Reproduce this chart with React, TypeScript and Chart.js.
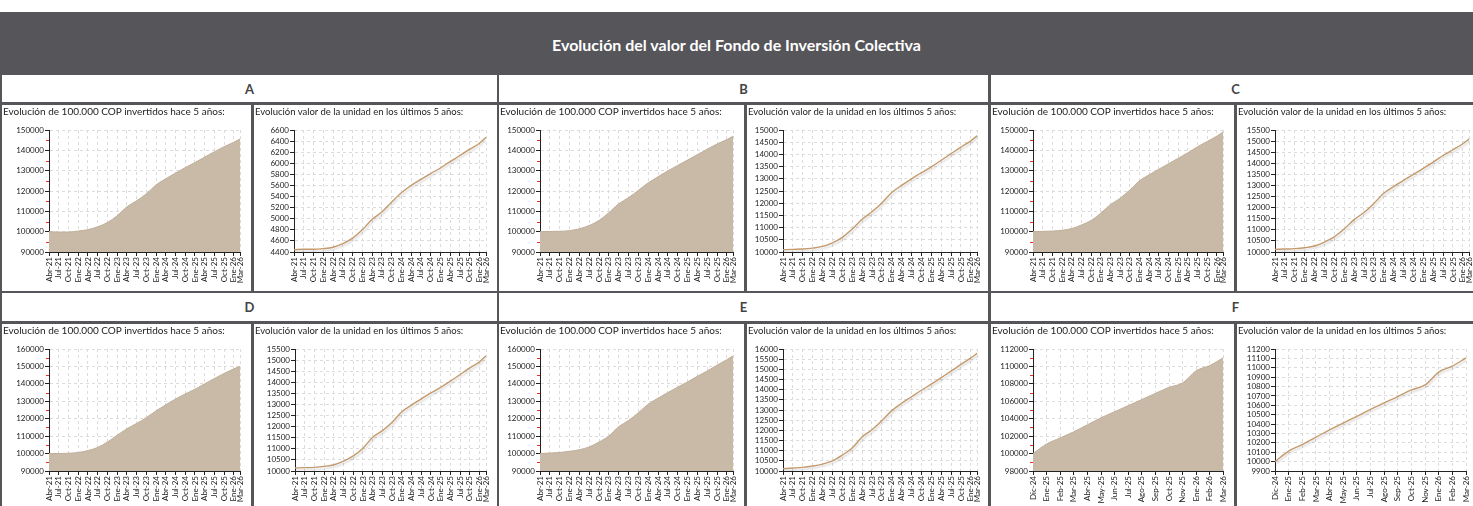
import React, { useEffect, useRef } from 'react';
import { Chart, registerables } from 'chart.js';

Chart.register(...registerables);

// ---------- DATA ----------
const quarterLabels = ['Abr-21', 'Jul-21', 'Oct-21', 'Ene-22', 'Abr-22', 'Jul-22', 'Oct-22', 'Ene-23', 'Abr-23', 'Jul-23', 'Oct-23', 'Ene-24', 'Abr-24', 'Jul-24', 'Oct-24', 'Ene-25', 'Abr-25', 'Jul-25', 'Oct-25', 'Ene-26', 'Mar-26'];
const quarterMonth = [0, 3, 6, 9, 12, 15, 18, 21, 24, 27, 30, 33, 36, 39, 42, 45, 48, 51, 54, 57, 59];
const fLabels = ['Dic-24', 'Ene-25', 'Feb-25', 'Mar-25', 'Abr-25', 'May-25', 'Jun-25', 'Jul-25', 'Ago-25', 'Sep-25', 'Oct-25', 'Nov-25', 'Ene-26', 'Feb-26', 'Mar-26'];

const aInvest = [100000, 99800, 99800, 100300, 101000, 102400, 104500, 107800, 112200, 115200, 118600, 123000, 126000, 128800, 131500, 134000, 136700, 139300, 141800, 144000, 145700];
const aUnit = [4440, 4450, 4450, 4460, 4485, 4550, 4650, 4800, 4990, 5120, 5300, 5470, 5600, 5710, 5815, 5915, 6030, 6140, 6255, 6360, 6470];

const bInvest = [100000, 100100, 100200, 100500, 101400, 103000, 105500, 109300, 113700, 116700, 120300, 124000, 127000, 129900, 132600, 135200, 137900, 140500, 143100, 145300, 147000];
const bUnit = [10094, 10108, 10120, 10160, 10230, 10375, 10600, 10940, 11340, 11650, 12010, 12440, 12730, 13000, 13250, 13490, 13760, 14030, 14300, 14555, 14770];

const cInvest = [100000, 100150, 100300, 100700, 101500, 103300, 105500, 109100, 113300, 116400, 120500, 125000, 128000, 130700, 133400, 136100, 138800, 141800, 144400, 147000, 149200];
const cUnit = [10119, 10134, 10150, 10190, 10270, 10450, 10680, 11040, 11460, 11780, 12190, 12650, 12950, 13230, 13500, 13770, 14050, 14350, 14610, 14880, 15100];

const dInvest = [100000, 100000, 100200, 100600, 101700, 103500, 106600, 110500, 114200, 117300, 120600, 124500, 128000, 131300, 134200, 136900, 140000, 143100, 146000, 148600, 150100];
const dUnit = [10134, 10150, 10164, 10210, 10283, 10450, 10685, 11030, 11520, 11820, 12200, 12670, 12970, 13250, 13520, 13770, 14050, 14350, 14650, 14920, 15200];

const eInvest = [100000, 100300, 100600, 101300, 102200, 103800, 106600, 110100, 115400, 119000, 123400, 128300, 131800, 135000, 138100, 141100, 144300, 147400, 150700, 153900, 156200];
const eUnit = [10113, 10146, 10178, 10243, 10340, 10500, 10780, 11130, 11670, 12030, 12480, 12970, 13330, 13650, 13970, 14270, 14590, 14910, 15240, 15560, 15800];

const fInvest = [100000, 101100, 101800, 102500, 103300, 104100, 104800, 105500, 106200, 106900, 107600, 108100, 109500, 110100, 111000];
const fUnit = [10000, 10112, 10182, 10260, 10337, 10411, 10482, 10556, 10626, 10693, 10764, 10817, 10954, 11017, 11105];

const HEADER_TITLE = 'Evolución del valor del Fondo de Inversión Colectiva';
const LEFT_TITLE = 'Evolución de 100.000 COP invertidos hace 5 años:';
const RIGHT_TITLE = 'Evolución valor de la unidad en los últimos 5 años:';

// ---------- STYLE ----------
const FONT = "Lato, 'Noto Sans', sans-serif";
const DARK = '#55555a';
const AREA_FILL = '#c9baa8';
const AREA_EDGE = '#bfae99';
const LINE_COLOR = '#c49a6c';

const minorTicks = {
  id: 'minorTicks',
  afterDraw(chart: any) {
    const y = chart.scales.y;
    const ctx = chart.ctx;
    const ticks = y.ticks;
    ctx.save();
    ctx.strokeStyle = '#ee2a22';
    ctx.lineWidth = 1;
    for (let i = 0; i < ticks.length - 1; i++) {
      const mid = (ticks[i].value + ticks[i + 1].value) / 2;
      const py = Math.round(y.getPixelForValue(mid)) + 0.5;
      ctx.beginPath();
      ctx.moveTo(y.right - 3, py);
      ctx.lineTo(y.right, py);
      ctx.stroke();
    }
    ctx.restore();
  },
};

const lineShadow = {
  id: 'lineShadow',
  beforeDatasetDraw(chart: any) {
    const c = chart.ctx;
    c.save();
    c.shadowColor = 'rgba(0,0,0,0.16)';
    c.shadowBlur = 2;
    c.shadowOffsetX = 1;
    c.shadowOffsetY = 2;
  },
  afterDatasetDraw(chart: any) {
    chart.ctx.restore();
  },
};

type Spec = {
  kind: 'area' | 'line';
  labels: string[];
  xIndex?: number[];
  values: number[];
  yMin: number;
  yMax: number;
  yStep: number;
  axisW: number;
  padR: number;
  width: number;
  height: number;
};

function MiniChart(props: Spec) {
  const ref = useRef<HTMLCanvasElement>(null);
  useEffect(() => {
    const { kind, labels, xIndex, values, yMin, yMax, yStep, axisW, padR } = props;
    const linearX = !!xIndex;
    const data = linearX ? values.map((v, i) => ({ x: xIndex![i], y: v })) : values;
    const tickFont = { family: FONT, size: 8 };
    const gridCommon = { color: '#dcdcdc', tickColor: '#222', tickLength: 4, lineWidth: 1 };
    const borderCommon = { color: '#222', dash: [3, 3], width: 1 };
    const xScale: any = linearX
      ? {
          type: 'linear',
          min: 0,
          max: xIndex![xIndex!.length - 1],
          afterBuildTicks: (s: any) => {
            s.ticks = xIndex!.map((v) => ({ value: v }));
          },
          ticks: {
            autoSkip: false,
            maxRotation: 90,
            minRotation: 90,
            padding: 1,
            font: tickFont,
            color: '#222',
            callback: (v: number) => labels[xIndex!.indexOf(v)],
          },
        }
      : {
          type: 'category',
          labels,
          offset: false,
          ticks: { autoSkip: false, maxRotation: 90, minRotation: 90, padding: 1, font: tickFont, color: '#222' },
        };
    xScale.grid = { ...gridCommon, offset: false };
    xScale.border = borderCommon;
    xScale.afterFit = (s: any) => {
      s.height = 39;
    };

    const dataset: any =
      kind === 'area'
        ? {
            data,
            fill: 'start',
            backgroundColor: AREA_FILL,
            borderColor: AREA_EDGE,
            borderWidth: 1,
            pointRadius: 0,
            cubicInterpolationMode: 'monotone',
          }
        : {
            data,
            fill: false,
            borderColor: LINE_COLOR,
            borderWidth: 1.4,
            pointRadius: 0,
            cubicInterpolationMode: 'monotone',
          };

    const chart = new Chart(ref.current!, {
      type: 'line',
      data: { labels: linearX ? undefined : labels, datasets: [dataset] },
      plugins: kind === 'area' ? [minorTicks] : [lineShadow],
      options: {
        responsive: false,
        animation: false,
        layout: { padding: { top: 25, right: padR, left: 0, bottom: 0 } },
        plugins: { legend: { display: false }, tooltip: { enabled: false }, title: { display: false } },
        scales: {
          x: xScale,
          y: {
            type: 'linear',
            min: yMin,
            max: yMax,
            ticks: {
              stepSize: yStep,
              autoSkip: false,
              padding: 1,
              font: tickFont,
              color: '#222',
              callback: (v: any) => String(v),
            },
            grid: gridCommon,
            border: borderCommon,
            afterFit: (s: any) => {
              s.width = axisW;
            },
          },
        },
      } as any,
    } as any);
    return () => chart.destroy();
  }, []);
  return (
    <canvas
      ref={ref}
      width={props.width}
      height={props.height}
      style={{ display: 'block', width: props.width, height: props.height }}
    />
  );
}

// ---------- LAYOUT ----------
const PANELS = [
  { left: 2, right: 497, lc: [2, 251], rc: [254, 497] },
  { left: 499, right: 988, lc: [499, 744], rc: [747, 988] },
  { left: 991, right: 1480, lc: [991, 1234], rc: [1237, 1480] },
];
const ROWS = [
  { letterTop: 75, letterBot: 102, cellTop: 105 },
  { letterTop: 293, letterBot: 321, cellTop: 324 },
];
const CELL_H = 186;

type PanelDef = {
  letter: string;
  invest: number[];
  unit: number[];
  iRange: [number, number, number];
  uRange: [number, number, number];
  monthly: boolean;
  lAxis: number;
  lPad: number;
  rAxis: number;
  rPad: number;
};

const PANEL_DEFS: PanelDef[] = [
  { letter: 'A', invest: aInvest, unit: aUnit, iRange: [90000, 150000, 10000], uRange: [4400, 6600, 200], monthly: true, lAxis: 47, lPad: 8, rAxis: 40, rPad: 11 },
  { letter: 'B', invest: bInvest, unit: bUnit, iRange: [90000, 150000, 10000], uRange: [10000, 15000, 500], monthly: true, lAxis: 41, lPad: 8, rAxis: 36, rPad: 9 },
  { letter: 'C', invest: cInvest, unit: cUnit, iRange: [90000, 150000, 10000], uRange: [10000, 15500, 500], monthly: true, lAxis: 42, lPad: 7, rAxis: 38, rPad: 9 },
  { letter: 'D', invest: dInvest, unit: dUnit, iRange: [90000, 160000, 10000], uRange: [10000, 15500, 500], monthly: true, lAxis: 47, lPad: 8, rAxis: 41, rPad: 11 },
  { letter: 'E', invest: eInvest, unit: eUnit, iRange: [90000, 160000, 10000], uRange: [10000, 16000, 500], monthly: true, lAxis: 41, lPad: 8, rAxis: 36, rPad: 10 },
  { letter: 'F', invest: fInvest, unit: fUnit, iRange: [98000, 112000, 2000], uRange: [9900, 11200, 100], monthly: false, lAxis: 42, lPad: 8, rAxis: 38, rPad: 14 },
];

const titleBase: React.CSSProperties = {
  position: 'absolute',
  left: 1,
  top: 0,
  fontFamily: FONT,
  lineHeight: '13px',
  color: '#222',
  whiteSpace: 'nowrap',
  zIndex: 2,
};

export default function App() {
  const blocks: React.ReactNode[] = [];
  PANEL_DEFS.forEach((p, idx) => {
    const row = ROWS[Math.floor(idx / 3)];
    const col = PANELS[idx % 3];
    const labels = p.monthly ? quarterLabels : fLabels;
    const xIndex = p.monthly ? quarterMonth : undefined;
    blocks.push(
      <div
        key={'l' + p.letter}
        style={{
          position: 'absolute',
          left: col.left,
          top: row.letterTop,
          width: col.right - col.left,
          height: row.letterBot - row.letterTop,
          background: '#fff',
          display: 'flex',
          alignItems: 'center',
          justifyContent: 'center',
          fontFamily: FONT,
          fontWeight: 700,
          fontSize: 13,
          color: '#444',
        }}
      >
        {p.letter}
      </div>
    );
    const cells = [
      { x: col.lc, kind: 'area' as const, title: LEFT_TITLE, tSize: 10, values: p.invest, r: p.iRange, axisW: p.lAxis, padR: p.lPad },
      { x: col.rc, kind: 'line' as const, title: RIGHT_TITLE, tSize: 9.5, values: p.unit, r: p.uRange, axisW: p.rAxis, padR: p.rPad },
    ];
    cells.forEach((c, j) => {
      const w = c.x[1] - c.x[0];
      blocks.push(
        <div
          key={'c' + p.letter + j}
          style={{ position: 'absolute', left: c.x[0], top: row.cellTop, width: w, height: CELL_H, background: '#fff' }}
        >
          <div style={{ ...titleBase, fontSize: c.tSize }}>{c.title}</div>
          <MiniChart
            kind={c.kind}
            labels={labels}
            xIndex={xIndex}
            values={c.values}
            yMin={c.r[0]}
            yMax={c.r[1]}
            yStep={c.r[2]}
            axisW={c.axisW}
            padR={c.padR}
            width={w}
            height={CELL_H}
          />
        </div>
      );
    });
  });

  return (
    <div
      style={{
        position: 'fixed',
        left: 0,
        top: 0,
        width: 1473,
        height: 506,
        overflow: 'hidden',
        background: '#fff',
      }}
    >
      <div style={{ position: 'absolute', left: 0, top: 12, width: 1473, height: 520, background: DARK }} />
      <div
        style={{
          position: 'absolute',
          left: 0,
          top: 13,
          width: 1473,
          height: 63,
          display: 'flex',
          alignItems: 'center',
          justifyContent: 'center',
          color: '#fff',
          fontFamily: FONT,
          fontWeight: 700,
          fontSize: 16,
        }}
      >
        {HEADER_TITLE}
      </div>
      {blocks}
    </div>
  );
}
